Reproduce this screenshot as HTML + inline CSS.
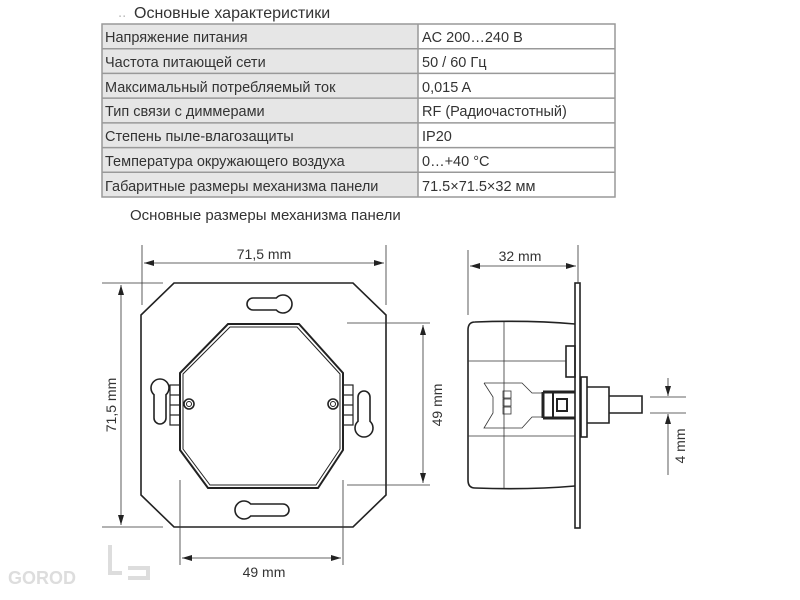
<!DOCTYPE html>
<html><head><meta charset="utf-8"><style>
body{margin:0;background:#fff;}
svg{display:block;font-family:"Liberation Sans",sans-serif;}
</style></head><body>
<svg width="800" height="600" viewBox="0 0 800 600" xmlns="http://www.w3.org/2000/svg">
<defs>
<marker id="a" markerWidth="10" markerHeight="6" refX="10" refY="3" orient="auto-start-reverse" markerUnits="userSpaceOnUse"><path d="M0,0 L10,3 L0,6 z" fill="#222"/></marker>
</defs>
<text x="118" y="17" font-size="15" fill="#bbb">..</text>
<text x="134" y="18" font-size="16" fill="#333">Основные характеристики</text>
<g font-size="14.5" fill="#333">
<rect x="102" y="24" width="316" height="173" fill="#e6e6e6"/>
<rect x="418" y="24" width="197" height="173" fill="#fff"/>
<g stroke="#999" stroke-width="1.5" fill="none">
<rect x="102" y="24" width="513" height="173"/>
<line x1="418" y1="24" x2="418" y2="197"/>
<line x1="102" y1="48.7" x2="615" y2="48.7"/>
<line x1="102" y1="73.4" x2="615" y2="73.4"/>
<line x1="102" y1="98.1" x2="615" y2="98.1"/>
<line x1="102" y1="122.9" x2="615" y2="122.9"/>
<line x1="102" y1="147.6" x2="615" y2="147.6"/>
<line x1="102" y1="172.3" x2="615" y2="172.3"/>
</g>
<text x="105" y="42">Напряжение питания</text><text x="422" y="42">AC 200…240 В</text>
<text x="105" y="67">Частота питающей сети</text><text x="422" y="67">50 / 60 Гц</text>
<text x="105" y="92">Максимальный потребляемый ток</text><text x="422" y="92">0,015 A</text>
<text x="105" y="116">Тип связи с диммерами</text><text x="422" y="116">RF (Радиочастотный)</text>
<text x="105" y="141">Степень пыле-влагозащиты</text><text x="422" y="141">IP20</text>
<text x="105" y="166">Температура окружающего воздуха</text><text x="422" y="166">0…+40 °C</text>
<text x="105" y="191">Габаритные размеры механизма панели</text><text x="422" y="191">71.5×71.5×32 мм</text>
</g>
<text x="130" y="220" font-size="15" fill="#333">Основные размеры механизма панели</text>

<!-- watermark -->
<text x="8" y="584" font-size="18" font-weight="bold" fill="#ddd">GOROD</text>
<g stroke="#ddd" stroke-width="4" fill="none"><path d="M110,545 v28 h12"/><path d="M128,568 h20 v10 h-20"/></g>

<g stroke="#222" fill="none" stroke-width="1.6">
<!-- front plate -->
<path d="M174,283 L353,283 L386,315 L386,495 L353,527 L174,527 L141,495 L141,315 Z"/>
<path d="M228,324 L299,324 L343,373 L343,450 L318,488 L208,488 L180,450 L180,373 Z" stroke-width="2"/>
<path d="M230,327 L297,327 L340,374 L340,449 L316,485 L210,485 L183,449 L183,374 Z" stroke-width="1"/>
<!-- keyholes -->
<path d="M253,298 H276.3 A9,9 0 1 1 276.3,310 H253 A6,6 0 0 1 253,298 Z"/>
<path d="M283,504 H250.7 A9,9 0 1 0 250.7,516 H283 A6,6 0 0 0 283,504 Z"/>
<path d="M154,394.7 A9,9 0 1 1 166,394.7 V418 A6,6 0 0 1 154,418 Z"/>
<path d="M358,397 A6,6 0 0 1 370,397 V421.3 A9,9 0 1 1 358,421.3 Z"/>
<circle cx="189" cy="404" r="5"/><circle cx="189" cy="404" r="2.5" stroke-width="1"/>
<circle cx="333" cy="404" r="5"/><circle cx="333" cy="404" r="2.5" stroke-width="1"/>
<g stroke-width="1.2">
<rect x="170" y="385" width="10" height="40"/><line x1="170" y1="395" x2="180" y2="395"/><line x1="170" y1="405" x2="180" y2="405"/><line x1="170" y1="415" x2="180" y2="415"/>
<rect x="343" y="385" width="10" height="40"/><line x1="343" y1="395" x2="353" y2="395"/><line x1="343" y1="405" x2="353" y2="405"/><line x1="343" y1="415" x2="353" y2="415"/>
</g>
</g>
<!-- front dims -->
<g stroke="#333" stroke-width="0.8" fill="none">
<line x1="142" y1="245" x2="142" y2="305"/><line x1="386" y1="245" x2="386" y2="305"/>
<line x1="144" y1="263" x2="384" y2="263" marker-start="url(#a)" marker-end="url(#a)"/>
<line x1="102" y1="283" x2="163" y2="283"/><line x1="102" y1="527" x2="163" y2="527"/>
<line x1="121" y1="285" x2="121" y2="525" marker-start="url(#a)" marker-end="url(#a)"/>
<line x1="347" y1="323" x2="430" y2="323"/><line x1="347" y1="485" x2="430" y2="485"/>
<line x1="423" y1="325" x2="423" y2="483" marker-start="url(#a)" marker-end="url(#a)"/>
<line x1="180" y1="480" x2="180" y2="565"/><line x1="343" y1="480" x2="343" y2="565"/>
<line x1="182" y1="558" x2="341" y2="558" marker-start="url(#a)" marker-end="url(#a)"/>
</g>
<g font-size="14" fill="#333" text-anchor="middle">
<text x="264" y="259">71,5 mm</text>
<text x="264" y="577">49 mm</text>
<text transform="translate(116,405) rotate(-90)">71,5 mm</text>
<text transform="translate(442,405) rotate(-90)">49 mm</text>
<text x="520" y="261">32 mm</text>
<text transform="translate(685,446) rotate(-90)">4 mm</text>
</g>

<!-- side view -->
<g stroke="#222" fill="none" stroke-width="1.6">
<path d="M575,324 Q530,320 475,322 Q468,322 468,330 L468,480 Q468,488 475,488 Q530,490 575,486"/>
<rect x="575" y="283" width="5" height="245" fill="#fff"/>
<rect x="566" y="346" width="9" height="31"/>
<rect x="581" y="377" width="6" height="60"/>
<path d="M587,387 H609 V423 H587"/>
<path d="M609,396 H642 V413 H609"/>
<path d="M543,392 H575 M543,418 H575 M543,392 V418" stroke-width="3"/>
<rect x="557" y="399" width="10" height="12" stroke-width="2"/>
<line x1="553" y1="392" x2="553" y2="418" stroke-width="2"/>
</g>
<g stroke="#333" stroke-width="0.8" fill="none">
<line x1="504" y1="322" x2="504" y2="488"/>
<line x1="468" y1="361" x2="566" y2="361"/><line x1="468" y1="436" x2="575" y2="436"/>
<path d="M484,383 H522 L532,393 H543 M543,417 H532 L522,428 H484 L493,413 V397 L484,383"/>
<rect x="503" y="391" width="8" height="7"/><rect x="503" y="399" width="8" height="7"/><rect x="503" y="407" width="8" height="7"/>
<line x1="468" y1="250" x2="468" y2="315"/><line x1="578" y1="245" x2="578" y2="283"/>
<line x1="470" y1="266" x2="576" y2="266" marker-start="url(#a)" marker-end="url(#a)"/>
<line x1="650" y1="397" x2="686" y2="397"/><line x1="650" y1="413" x2="686" y2="413"/>
<line x1="668" y1="378" x2="668" y2="396" marker-end="url(#a)"/>
<line x1="668" y1="475" x2="668" y2="414" marker-end="url(#a)"/>
</g>
</svg>
</body></html>
